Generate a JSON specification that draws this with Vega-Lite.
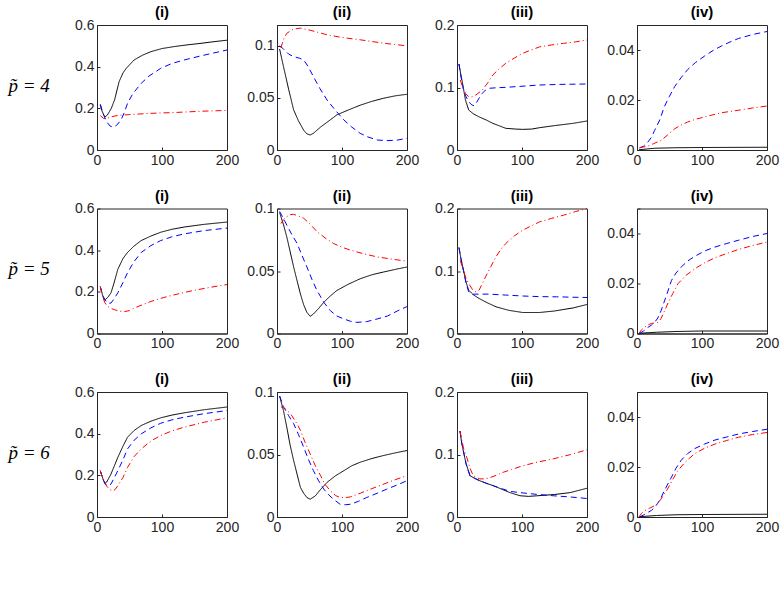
{
"$schema":"https://vega.github.io/schema/vega-lite/v6.json",
"padding":{"left":7,"top":4,"right":5,"bottom":5},
"background":"white",
"config":{
 "view":{"stroke":"#262626","strokeWidth":1},
 "axis":{"grid":false,"domainColor":"#262626","tickColor":"#262626","labelColor":"#262626","labelFont":"Liberation Sans","labelFontSize":14,"tickSize":-3,"labelPadding":6,"domainWidth":1,"labelFlush":false,"labelOverlap":false},
 "title":{"font":"Liberation Sans","fontSize":15,"fontWeight":"bold","color":"#000000"},
 "line":{"strokeWidth":1,"clip":true}
},
"datasets":{"d":[
{"r":4,"p":"i","s":"a","x":5,"y":0.215},{"r":4,"p":"i","s":"a","x":8,"y":0.185},{"r":4,"p":"i","s":"a","x":12,"y":0.158},{"r":4,"p":"i","s":"a","x":16,"y":0.168},{"r":4,"p":"i","s":"a","x":22,"y":0.2},{"r":4,"p":"i","s":"a","x":27,"y":0.24},{"r":4,"p":"i","s":"a","x":34,"y":0.328},{"r":4,"p":"i","s":"a","x":40,"y":0.37},{"r":4,"p":"i","s":"a","x":45,"y":0.392},{"r":4,"p":"i","s":"a","x":57,"y":0.432},{"r":4,"p":"i","s":"a","x":70,"y":0.455},{"r":4,"p":"i","s":"a","x":83,"y":0.472},{"r":4,"p":"i","s":"a","x":100,"y":0.487},{"r":4,"p":"i","s":"a","x":120,"y":0.497},{"r":4,"p":"i","s":"a","x":140,"y":0.505},{"r":4,"p":"i","s":"a","x":160,"y":0.512},{"r":4,"p":"i","s":"a","x":180,"y":0.52},{"r":4,"p":"i","s":"a","x":200,"y":0.527},
{"r":4,"p":"i","s":"b","x":5,"y":0.22},{"r":4,"p":"i","s":"b","x":10,"y":0.17},{"r":4,"p":"i","s":"b","x":15,"y":0.135},{"r":4,"p":"i","s":"b","x":20,"y":0.115},{"r":4,"p":"i","s":"b","x":25,"y":0.11},{"r":4,"p":"i","s":"b","x":30,"y":0.118},{"r":4,"p":"i","s":"b","x":37,"y":0.144},{"r":4,"p":"i","s":"b","x":42,"y":0.18},{"r":4,"p":"i","s":"b","x":47,"y":0.224},{"r":4,"p":"i","s":"b","x":55,"y":0.27},{"r":4,"p":"i","s":"b","x":68,"y":0.32},{"r":4,"p":"i","s":"b","x":80,"y":0.355},{"r":4,"p":"i","s":"b","x":98,"y":0.392},{"r":4,"p":"i","s":"b","x":115,"y":0.415},{"r":4,"p":"i","s":"b","x":134,"y":0.432},{"r":4,"p":"i","s":"b","x":160,"y":0.452},{"r":4,"p":"i","s":"b","x":180,"y":0.466},{"r":4,"p":"i","s":"b","x":200,"y":0.48},
{"r":4,"p":"i","s":"c","x":5,"y":0.165},{"r":4,"p":"i","s":"c","x":10,"y":0.152},{"r":4,"p":"i","s":"c","x":14,"y":0.149},{"r":4,"p":"i","s":"c","x":20,"y":0.158},{"r":4,"p":"i","s":"c","x":32,"y":0.166},{"r":4,"p":"i","s":"c","x":50,"y":0.17},{"r":4,"p":"i","s":"c","x":83,"y":0.176},{"r":4,"p":"i","s":"c","x":120,"y":0.18},{"r":4,"p":"i","s":"c","x":160,"y":0.186},{"r":4,"p":"i","s":"c","x":200,"y":0.19},
{"r":4,"p":"ii","s":"a","x":4,"y":0.097},{"r":4,"p":"ii","s":"a","x":10,"y":0.08},{"r":4,"p":"ii","s":"a","x":18,"y":0.058},{"r":4,"p":"ii","s":"a","x":25.6,"y":0.0385},{"r":4,"p":"ii","s":"a","x":33,"y":0.028},{"r":4,"p":"ii","s":"a","x":41,"y":0.019},{"r":4,"p":"ii","s":"a","x":46,"y":0.0155},{"r":4,"p":"ii","s":"a","x":51,"y":0.0144},{"r":4,"p":"ii","s":"a","x":56,"y":0.016},{"r":4,"p":"ii","s":"a","x":67,"y":0.022},{"r":4,"p":"ii","s":"a","x":80,"y":0.028},{"r":4,"p":"ii","s":"a","x":92,"y":0.0337},{"r":4,"p":"ii","s":"a","x":110,"y":0.0385},{"r":4,"p":"ii","s":"a","x":128,"y":0.043},{"r":4,"p":"ii","s":"a","x":146,"y":0.0467},{"r":4,"p":"ii","s":"a","x":164,"y":0.0497},{"r":4,"p":"ii","s":"a","x":182,"y":0.052},{"r":4,"p":"ii","s":"a","x":200,"y":0.0535},
{"r":4,"p":"ii","s":"b","x":4,"y":0.1},{"r":4,"p":"ii","s":"b","x":10,"y":0.097},{"r":4,"p":"ii","s":"b","x":18,"y":0.092},{"r":4,"p":"ii","s":"b","x":25.6,"y":0.0897},{"r":4,"p":"ii","s":"b","x":35,"y":0.088},{"r":4,"p":"ii","s":"b","x":41,"y":0.0865},{"r":4,"p":"ii","s":"b","x":48,"y":0.08},{"r":4,"p":"ii","s":"b","x":56,"y":0.0705},{"r":4,"p":"ii","s":"b","x":66,"y":0.059},{"r":4,"p":"ii","s":"b","x":77,"y":0.048},{"r":4,"p":"ii","s":"b","x":90,"y":0.038},{"r":4,"p":"ii","s":"b","x":103,"y":0.0288},{"r":4,"p":"ii","s":"b","x":115,"y":0.022},{"r":4,"p":"ii","s":"b","x":128,"y":0.016},{"r":4,"p":"ii","s":"b","x":140,"y":0.0125},{"r":4,"p":"ii","s":"b","x":154,"y":0.0096},{"r":4,"p":"ii","s":"b","x":169,"y":0.009},{"r":4,"p":"ii","s":"b","x":185,"y":0.0095},{"r":4,"p":"ii","s":"b","x":200,"y":0.0112},
{"r":4,"p":"ii","s":"c","x":6,"y":0.098},{"r":4,"p":"ii","s":"c","x":10,"y":0.106},{"r":4,"p":"ii","s":"c","x":15,"y":0.112},{"r":4,"p":"ii","s":"c","x":25,"y":0.116},{"r":4,"p":"ii","s":"c","x":36,"y":0.117},{"r":4,"p":"ii","s":"c","x":51,"y":0.115},{"r":4,"p":"ii","s":"c","x":77,"y":0.1106},{"r":4,"p":"ii","s":"c","x":100,"y":0.108},{"r":4,"p":"ii","s":"c","x":128,"y":0.1058},{"r":4,"p":"ii","s":"c","x":164,"y":0.1025},{"r":4,"p":"ii","s":"c","x":200,"y":0.1},
{"r":4,"p":"iii","s":"a","x":3,"y":0.1376},{"r":4,"p":"iii","s":"a","x":6,"y":0.12},{"r":4,"p":"iii","s":"a","x":8,"y":0.11},{"r":4,"p":"iii","s":"a","x":13,"y":0.08},{"r":4,"p":"iii","s":"a","x":18,"y":0.064},{"r":4,"p":"iii","s":"a","x":25,"y":0.058},{"r":4,"p":"iii","s":"a","x":34,"y":0.053},{"r":4,"p":"iii","s":"a","x":45,"y":0.048},{"r":4,"p":"iii","s":"a","x":55,"y":0.0427},{"r":4,"p":"iii","s":"a","x":75,"y":0.0347},{"r":4,"p":"iii","s":"a","x":90,"y":0.0335},{"r":4,"p":"iii","s":"a","x":101,"y":0.033},{"r":4,"p":"iii","s":"a","x":115,"y":0.0335},{"r":4,"p":"iii","s":"a","x":127,"y":0.0357},{"r":4,"p":"iii","s":"a","x":150,"y":0.039},{"r":4,"p":"iii","s":"a","x":179,"y":0.0427},{"r":4,"p":"iii","s":"a","x":200,"y":0.0464},
{"r":4,"p":"iii","s":"b","x":3,"y":0.1376},{"r":4,"p":"iii","s":"b","x":6,"y":0.118},{"r":4,"p":"iii","s":"b","x":10,"y":0.096},{"r":4,"p":"iii","s":"b","x":14,"y":0.085},{"r":4,"p":"iii","s":"b","x":18,"y":0.077},{"r":4,"p":"iii","s":"b","x":23,"y":0.072},{"r":4,"p":"iii","s":"b","x":26,"y":0.071},{"r":4,"p":"iii","s":"b","x":29,"y":0.074},{"r":4,"p":"iii","s":"b","x":34,"y":0.083},{"r":4,"p":"iii","s":"b","x":39,"y":0.0907},{"r":4,"p":"iii","s":"b","x":44,"y":0.096},{"r":4,"p":"iii","s":"b","x":49,"y":0.0987},{"r":4,"p":"iii","s":"b","x":60,"y":0.0995},{"r":4,"p":"iii","s":"b","x":75,"y":0.1003},{"r":4,"p":"iii","s":"b","x":100,"y":0.102},{"r":4,"p":"iii","s":"b","x":127,"y":0.104},{"r":4,"p":"iii","s":"b","x":160,"y":0.105},{"r":4,"p":"iii","s":"b","x":200,"y":0.1056},
{"r":4,"p":"iii","s":"c","x":5,"y":0.112},{"r":4,"p":"iii","s":"c","x":9,"y":0.1},{"r":4,"p":"iii","s":"c","x":13,"y":0.0907},{"r":4,"p":"iii","s":"c","x":18,"y":0.085},{"r":4,"p":"iii","s":"c","x":23,"y":0.085},{"r":4,"p":"iii","s":"c","x":29,"y":0.088},{"r":4,"p":"iii","s":"c","x":39,"y":0.096},{"r":4,"p":"iii","s":"c","x":47,"y":0.107},{"r":4,"p":"iii","s":"c","x":55,"y":0.12},{"r":4,"p":"iii","s":"c","x":65,"y":0.13},{"r":4,"p":"iii","s":"c","x":75,"y":0.1387},{"r":4,"p":"iii","s":"c","x":88,"y":0.147},{"r":4,"p":"iii","s":"c","x":101,"y":0.1547},{"r":4,"p":"iii","s":"c","x":114,"y":0.16},{"r":4,"p":"iii","s":"c","x":127,"y":0.165},{"r":4,"p":"iii","s":"c","x":145,"y":0.168},{"r":4,"p":"iii","s":"c","x":164,"y":0.1707},{"r":4,"p":"iii","s":"c","x":182,"y":0.173},{"r":4,"p":"iii","s":"c","x":200,"y":0.176},
{"r":4,"p":"iv","s":"a","x":3,"y":0.0001},{"r":4,"p":"iv","s":"a","x":27,"y":0.0007},{"r":4,"p":"iv","s":"a","x":58,"y":0.0009},{"r":4,"p":"iv","s":"a","x":100,"y":0.001},{"r":4,"p":"iv","s":"a","x":200,"y":0.0011},
{"r":4,"p":"iv","s":"b","x":4,"y":0.0008},{"r":4,"p":"iv","s":"b","x":10,"y":0.0015},{"r":4,"p":"iv","s":"b","x":16.5,"y":0.0031},{"r":4,"p":"iv","s":"b","x":22,"y":0.005},{"r":4,"p":"iv","s":"b","x":27,"y":0.0078},{"r":4,"p":"iv","s":"b","x":35,"y":0.012},{"r":4,"p":"iv","s":"b","x":42,"y":0.0173},{"r":4,"p":"iv","s":"b","x":50,"y":0.0215},{"r":4,"p":"iv","s":"b","x":58,"y":0.0254},{"r":4,"p":"iv","s":"b","x":68,"y":0.029},{"r":4,"p":"iv","s":"b","x":78,"y":0.0322},{"r":4,"p":"iv","s":"b","x":90,"y":0.035},{"r":4,"p":"iv","s":"b","x":104,"y":0.0376},{"r":4,"p":"iv","s":"b","x":117,"y":0.0398},{"r":4,"p":"iv","s":"b","x":130,"y":0.0416},{"r":4,"p":"iv","s":"b","x":143,"y":0.0432},{"r":4,"p":"iv","s":"b","x":156,"y":0.0446},{"r":4,"p":"iv","s":"b","x":178,"y":0.0462},{"r":4,"p":"iv","s":"b","x":200,"y":0.0474},
{"r":4,"p":"iv","s":"c","x":4,"y":0.001},{"r":4,"p":"iv","s":"c","x":10,"y":0.0012},{"r":4,"p":"iv","s":"c","x":16.5,"y":0.0015},{"r":4,"p":"iv","s":"c","x":25,"y":0.0025},{"r":4,"p":"iv","s":"c","x":37,"y":0.0038},{"r":4,"p":"iv","s":"c","x":47,"y":0.006},{"r":4,"p":"iv","s":"c","x":58,"y":0.0085},{"r":4,"p":"iv","s":"c","x":68,"y":0.01},{"r":4,"p":"iv","s":"c","x":78,"y":0.0112},{"r":4,"p":"iv","s":"c","x":90,"y":0.0123},{"r":4,"p":"iv","s":"c","x":104,"y":0.0132},{"r":4,"p":"iv","s":"c","x":117,"y":0.0141},{"r":4,"p":"iv","s":"c","x":130,"y":0.0149},{"r":4,"p":"iv","s":"c","x":156,"y":0.0159},{"r":4,"p":"iv","s":"c","x":178,"y":0.0168},{"r":4,"p":"iv","s":"c","x":200,"y":0.0176},
{"r":5,"p":"i","s":"a","x":5,"y":0.225},{"r":5,"p":"i","s":"a","x":8,"y":0.19},{"r":5,"p":"i","s":"a","x":11,"y":0.162},{"r":5,"p":"i","s":"a","x":13,"y":0.163},{"r":5,"p":"i","s":"a","x":17,"y":0.175},{"r":5,"p":"i","s":"a","x":21.5,"y":0.195},{"r":5,"p":"i","s":"a","x":26,"y":0.24},{"r":5,"p":"i","s":"a","x":32,"y":0.308},{"r":5,"p":"i","s":"a","x":40,"y":0.36},{"r":5,"p":"i","s":"a","x":47,"y":0.389},{"r":5,"p":"i","s":"a","x":57,"y":0.42},{"r":5,"p":"i","s":"a","x":68,"y":0.446},{"r":5,"p":"i","s":"a","x":83,"y":0.468},{"r":5,"p":"i","s":"a","x":98,"y":0.486},{"r":5,"p":"i","s":"a","x":115,"y":0.5},{"r":5,"p":"i","s":"a","x":134,"y":0.511},{"r":5,"p":"i","s":"a","x":165,"y":0.524},{"r":5,"p":"i","s":"a","x":200,"y":0.535},
{"r":5,"p":"i","s":"b","x":5,"y":0.225},{"r":5,"p":"i","s":"b","x":9,"y":0.18},{"r":5,"p":"i","s":"b","x":14,"y":0.154},{"r":5,"p":"i","s":"b","x":17,"y":0.145},{"r":5,"p":"i","s":"b","x":21.5,"y":0.146},{"r":5,"p":"i","s":"b","x":26,"y":0.165},{"r":5,"p":"i","s":"b","x":32,"y":0.195},{"r":5,"p":"i","s":"b","x":40,"y":0.245},{"r":5,"p":"i","s":"b","x":47,"y":0.292},{"r":5,"p":"i","s":"b","x":57,"y":0.345},{"r":5,"p":"i","s":"b","x":68,"y":0.389},{"r":5,"p":"i","s":"b","x":83,"y":0.422},{"r":5,"p":"i","s":"b","x":98,"y":0.446},{"r":5,"p":"i","s":"b","x":115,"y":0.464},{"r":5,"p":"i","s":"b","x":134,"y":0.478},{"r":5,"p":"i","s":"b","x":165,"y":0.494},{"r":5,"p":"i","s":"b","x":200,"y":0.506},
{"r":5,"p":"i","s":"c","x":5,"y":0.225},{"r":5,"p":"i","s":"c","x":9,"y":0.175},{"r":5,"p":"i","s":"c","x":12,"y":0.148},{"r":5,"p":"i","s":"c","x":16.4,"y":0.13},{"r":5,"p":"i","s":"c","x":22,"y":0.12},{"r":5,"p":"i","s":"c","x":27,"y":0.114},{"r":5,"p":"i","s":"c","x":35,"y":0.107},{"r":5,"p":"i","s":"c","x":42,"y":0.105},{"r":5,"p":"i","s":"c","x":50,"y":0.11},{"r":5,"p":"i","s":"c","x":57,"y":0.122},{"r":5,"p":"i","s":"c","x":70,"y":0.138},{"r":5,"p":"i","s":"c","x":83,"y":0.154},{"r":5,"p":"i","s":"c","x":96,"y":0.167},{"r":5,"p":"i","s":"c","x":109,"y":0.178},{"r":5,"p":"i","s":"c","x":130,"y":0.194},{"r":5,"p":"i","s":"c","x":150,"y":0.2076},{"r":5,"p":"i","s":"c","x":175,"y":0.222},{"r":5,"p":"i","s":"c","x":200,"y":0.235},
{"r":5,"p":"ii","s":"a","x":4,"y":0.0968},{"r":5,"p":"ii","s":"a","x":10,"y":0.087},{"r":5,"p":"ii","s":"a","x":15,"y":0.0774},{"r":5,"p":"ii","s":"a","x":20,"y":0.066},{"r":5,"p":"ii","s":"a","x":25.6,"y":0.0532},{"r":5,"p":"ii","s":"a","x":31,"y":0.042},{"r":5,"p":"ii","s":"a","x":36,"y":0.0317},{"r":5,"p":"ii","s":"a","x":41,"y":0.023},{"r":5,"p":"ii","s":"a","x":46,"y":0.0169},{"r":5,"p":"ii","s":"a","x":51,"y":0.0137},{"r":5,"p":"ii","s":"a","x":56,"y":0.0156},{"r":5,"p":"ii","s":"a","x":64,"y":0.02},{"r":5,"p":"ii","s":"a","x":72,"y":0.025},{"r":5,"p":"ii","s":"a","x":82,"y":0.03},{"r":5,"p":"ii","s":"a","x":92,"y":0.0344},{"r":5,"p":"ii","s":"a","x":110,"y":0.0395},{"r":5,"p":"ii","s":"a","x":128,"y":0.0438},{"r":5,"p":"ii","s":"a","x":146,"y":0.047},{"r":5,"p":"ii","s":"a","x":164,"y":0.0492},{"r":5,"p":"ii","s":"a","x":182,"y":0.0513},{"r":5,"p":"ii","s":"a","x":200,"y":0.0532},
{"r":5,"p":"ii","s":"b","x":4,"y":0.0976},{"r":5,"p":"ii","s":"b","x":10,"y":0.092},{"r":5,"p":"ii","s":"b","x":15,"y":0.0868},{"r":5,"p":"ii","s":"b","x":23,"y":0.079},{"r":5,"p":"ii","s":"b","x":31,"y":0.072},{"r":5,"p":"ii","s":"b","x":38,"y":0.063},{"r":5,"p":"ii","s":"b","x":46,"y":0.0532},{"r":5,"p":"ii","s":"b","x":54,"y":0.043},{"r":5,"p":"ii","s":"b","x":61.5,"y":0.0344},{"r":5,"p":"ii","s":"b","x":72,"y":0.025},{"r":5,"p":"ii","s":"b","x":82,"y":0.0183},{"r":5,"p":"ii","s":"b","x":92,"y":0.014},{"r":5,"p":"ii","s":"b","x":103,"y":0.0116},{"r":5,"p":"ii","s":"b","x":113,"y":0.0098},{"r":5,"p":"ii","s":"b","x":123,"y":0.0089},{"r":5,"p":"ii","s":"b","x":138,"y":0.0095},{"r":5,"p":"ii","s":"b","x":154,"y":0.0116},{"r":5,"p":"ii","s":"b","x":170,"y":0.014},{"r":5,"p":"ii","s":"b","x":185,"y":0.018},{"r":5,"p":"ii","s":"b","x":200,"y":0.0215},
{"r":5,"p":"ii","s":"c","x":6,"y":0.088},{"r":5,"p":"ii","s":"c","x":10,"y":0.091},{"r":5,"p":"ii","s":"c","x":15,"y":0.0935},{"r":5,"p":"ii","s":"c","x":20,"y":0.095},{"r":5,"p":"ii","s":"c","x":25.6,"y":0.0954},{"r":5,"p":"ii","s":"c","x":33,"y":0.094},{"r":5,"p":"ii","s":"c","x":41,"y":0.0922},{"r":5,"p":"ii","s":"c","x":50,"y":0.088},{"r":5,"p":"ii","s":"c","x":61.5,"y":0.0815},{"r":5,"p":"ii","s":"c","x":74,"y":0.0765},{"r":5,"p":"ii","s":"c","x":87,"y":0.072},{"r":5,"p":"ii","s":"c","x":100,"y":0.069},{"r":5,"p":"ii","s":"c","x":113,"y":0.0667},{"r":5,"p":"ii","s":"c","x":133,"y":0.0638},{"r":5,"p":"ii","s":"c","x":154,"y":0.0613},{"r":5,"p":"ii","s":"c","x":177,"y":0.0595},{"r":5,"p":"ii","s":"c","x":200,"y":0.0578},
{"r":5,"p":"iii","s":"a","x":3,"y":0.1376},{"r":5,"p":"iii","s":"a","x":6,"y":0.12},{"r":5,"p":"iii","s":"a","x":10,"y":0.101},{"r":5,"p":"iii","s":"a","x":14,"y":0.082},{"r":5,"p":"iii","s":"a","x":18,"y":0.0693},{"r":5,"p":"iii","s":"a","x":25,"y":0.062},{"r":5,"p":"iii","s":"a","x":34,"y":0.056},{"r":5,"p":"iii","s":"a","x":45,"y":0.05},{"r":5,"p":"iii","s":"a","x":60,"y":0.0427},{"r":5,"p":"iii","s":"a","x":80,"y":0.037},{"r":5,"p":"iii","s":"a","x":101,"y":0.0336},{"r":5,"p":"iii","s":"a","x":127,"y":0.0336},{"r":5,"p":"iii","s":"a","x":150,"y":0.036},{"r":5,"p":"iii","s":"a","x":179,"y":0.041},{"r":5,"p":"iii","s":"a","x":200,"y":0.0464},
{"r":5,"p":"iii","s":"b","x":3,"y":0.1376},{"r":5,"p":"iii","s":"b","x":6,"y":0.12},{"r":5,"p":"iii","s":"b","x":10,"y":0.101},{"r":5,"p":"iii","s":"b","x":14,"y":0.08},{"r":5,"p":"iii","s":"b","x":18,"y":0.0667},{"r":5,"p":"iii","s":"b","x":23,"y":0.063},{"r":5,"p":"iii","s":"b","x":49,"y":0.063},{"r":5,"p":"iii","s":"b","x":75,"y":0.0615},{"r":5,"p":"iii","s":"b","x":101,"y":0.06},{"r":5,"p":"iii","s":"b","x":127,"y":0.059},{"r":5,"p":"iii","s":"b","x":153,"y":0.0587},{"r":5,"p":"iii","s":"b","x":180,"y":0.058},{"r":5,"p":"iii","s":"b","x":200,"y":0.0576},
{"r":5,"p":"iii","s":"c","x":5,"y":0.117},{"r":5,"p":"iii","s":"c","x":10,"y":0.1},{"r":5,"p":"iii","s":"c","x":14,"y":0.088},{"r":5,"p":"iii","s":"c","x":18,"y":0.08},{"r":5,"p":"iii","s":"c","x":24,"y":0.07},{"r":5,"p":"iii","s":"c","x":29,"y":0.0667},{"r":5,"p":"iii","s":"c","x":34,"y":0.0693},{"r":5,"p":"iii","s":"c","x":39,"y":0.08},{"r":5,"p":"iii","s":"c","x":44,"y":0.0907},{"r":5,"p":"iii","s":"c","x":52,"y":0.107},{"r":5,"p":"iii","s":"c","x":60,"y":0.1227},{"r":5,"p":"iii","s":"c","x":67,"y":0.134},{"r":5,"p":"iii","s":"c","x":75,"y":0.144},{"r":5,"p":"iii","s":"c","x":88,"y":0.156},{"r":5,"p":"iii","s":"c","x":101,"y":0.1653},{"r":5,"p":"iii","s":"c","x":114,"y":0.172},{"r":5,"p":"iii","s":"c","x":127,"y":0.1787},{"r":5,"p":"iii","s":"c","x":145,"y":0.184},{"r":5,"p":"iii","s":"c","x":164,"y":0.1893},{"r":5,"p":"iii","s":"c","x":182,"y":0.195},{"r":5,"p":"iii","s":"c","x":200,"y":0.2},
{"r":5,"p":"iv","s":"a","x":3,"y":0.0001},{"r":5,"p":"iv","s":"a","x":30,"y":0.0005},{"r":5,"p":"iv","s":"a","x":60,"y":0.0008},{"r":5,"p":"iv","s":"a","x":100,"y":0.001},{"r":5,"p":"iv","s":"a","x":200,"y":0.001},
{"r":5,"p":"iv","s":"b","x":4,"y":0},{"r":5,"p":"iv","s":"b","x":10,"y":0.001},{"r":5,"p":"iv","s":"b","x":16.5,"y":0.0024},{"r":5,"p":"iv","s":"b","x":22,"y":0.0033},{"r":5,"p":"iv","s":"b","x":27,"y":0.0044},{"r":5,"p":"iv","s":"b","x":32,"y":0.0062},{"r":5,"p":"iv","s":"b","x":37,"y":0.0091},{"r":5,"p":"iv","s":"b","x":45,"y":0.015},{"r":5,"p":"iv","s":"b","x":53,"y":0.0212},{"r":5,"p":"iv","s":"b","x":60,"y":0.0242},{"r":5,"p":"iv","s":"b","x":68,"y":0.0266},{"r":5,"p":"iv","s":"b","x":78,"y":0.029},{"r":5,"p":"iv","s":"b","x":89,"y":0.0309},{"r":5,"p":"iv","s":"b","x":104,"y":0.033},{"r":5,"p":"iv","s":"b","x":120,"y":0.0346},{"r":5,"p":"iv","s":"b","x":138,"y":0.036},{"r":5,"p":"iv","s":"b","x":156,"y":0.0373},{"r":5,"p":"iv","s":"b","x":178,"y":0.0388},{"r":5,"p":"iv","s":"b","x":200,"y":0.04},
{"r":5,"p":"iv","s":"c","x":3,"y":0},{"r":5,"p":"iv","s":"c","x":7,"y":0.0015},{"r":5,"p":"iv","s":"c","x":11,"y":0.0024},{"r":5,"p":"iv","s":"c","x":16,"y":0.0033},{"r":5,"p":"iv","s":"c","x":22,"y":0.004},{"r":5,"p":"iv","s":"c","x":27,"y":0.0042},{"r":5,"p":"iv","s":"c","x":32,"y":0.0044},{"r":5,"p":"iv","s":"c","x":37,"y":0.006},{"r":5,"p":"iv","s":"c","x":42,"y":0.0088},{"r":5,"p":"iv","s":"c","x":47,"y":0.0118},{"r":5,"p":"iv","s":"c","x":55,"y":0.016},{"r":5,"p":"iv","s":"c","x":63,"y":0.0199},{"r":5,"p":"iv","s":"c","x":75,"y":0.0232},{"r":5,"p":"iv","s":"c","x":89,"y":0.0259},{"r":5,"p":"iv","s":"c","x":104,"y":0.0283},{"r":5,"p":"iv","s":"c","x":120,"y":0.0303},{"r":5,"p":"iv","s":"c","x":138,"y":0.032},{"r":5,"p":"iv","s":"c","x":156,"y":0.0336},{"r":5,"p":"iv","s":"c","x":178,"y":0.0352},{"r":5,"p":"iv","s":"c","x":200,"y":0.0366},
{"r":6,"p":"i","s":"a","x":5,"y":0.222},{"r":6,"p":"i","s":"a","x":9,"y":0.185},{"r":6,"p":"i","s":"a","x":12,"y":0.161},{"r":6,"p":"i","s":"a","x":15,"y":0.168},{"r":6,"p":"i","s":"a","x":21.5,"y":0.206},{"r":6,"p":"i","s":"a","x":26,"y":0.24},{"r":6,"p":"i","s":"a","x":32,"y":0.286},{"r":6,"p":"i","s":"a","x":40,"y":0.34},{"r":6,"p":"i","s":"a","x":47,"y":0.383},{"r":6,"p":"i","s":"a","x":57,"y":0.415},{"r":6,"p":"i","s":"a","x":68,"y":0.439},{"r":6,"p":"i","s":"a","x":83,"y":0.46},{"r":6,"p":"i","s":"a","x":98,"y":0.476},{"r":6,"p":"i","s":"a","x":115,"y":0.489},{"r":6,"p":"i","s":"a","x":134,"y":0.5},{"r":6,"p":"i","s":"a","x":165,"y":0.515},{"r":6,"p":"i","s":"a","x":200,"y":0.528},
{"r":6,"p":"i","s":"b","x":5,"y":0.222},{"r":6,"p":"i","s":"b","x":10,"y":0.175},{"r":6,"p":"i","s":"b","x":15,"y":0.15},{"r":6,"p":"i","s":"b","x":18,"y":0.15},{"r":6,"p":"i","s":"b","x":21.5,"y":0.158},{"r":6,"p":"i","s":"b","x":26,"y":0.185},{"r":6,"p":"i","s":"b","x":32,"y":0.222},{"r":6,"p":"i","s":"b","x":40,"y":0.275},{"r":6,"p":"i","s":"b","x":47,"y":0.327},{"r":6,"p":"i","s":"b","x":57,"y":0.368},{"r":6,"p":"i","s":"b","x":68,"y":0.399},{"r":6,"p":"i","s":"b","x":83,"y":0.428},{"r":6,"p":"i","s":"b","x":98,"y":0.45},{"r":6,"p":"i","s":"b","x":115,"y":0.466},{"r":6,"p":"i","s":"b","x":134,"y":0.479},{"r":6,"p":"i","s":"b","x":165,"y":0.496},{"r":6,"p":"i","s":"b","x":200,"y":0.511},
{"r":6,"p":"i","s":"c","x":5,"y":0.222},{"r":6,"p":"i","s":"c","x":11,"y":0.166},{"r":6,"p":"i","s":"c","x":15,"y":0.148},{"r":6,"p":"i","s":"c","x":19,"y":0.1335},{"r":6,"p":"i","s":"c","x":24,"y":0.125},{"r":6,"p":"i","s":"c","x":28,"y":0.132},{"r":6,"p":"i","s":"c","x":32,"y":0.15},{"r":6,"p":"i","s":"c","x":40,"y":0.19},{"r":6,"p":"i","s":"c","x":47,"y":0.238},{"r":6,"p":"i","s":"c","x":57,"y":0.29},{"r":6,"p":"i","s":"c","x":68,"y":0.3266},{"r":6,"p":"i","s":"c","x":83,"y":0.365},{"r":6,"p":"i","s":"c","x":98,"y":0.391},{"r":6,"p":"i","s":"c","x":115,"y":0.413},{"r":6,"p":"i","s":"c","x":134,"y":0.431},{"r":6,"p":"i","s":"c","x":165,"y":0.455},{"r":6,"p":"i","s":"c","x":200,"y":0.476},
{"r":6,"p":"ii","s":"a","x":4,"y":0.0968},{"r":6,"p":"ii","s":"a","x":10,"y":0.085},{"r":6,"p":"ii","s":"a","x":15,"y":0.072},{"r":6,"p":"ii","s":"a","x":20,"y":0.058},{"r":6,"p":"ii","s":"a","x":25.6,"y":0.0452},{"r":6,"p":"ii","s":"a","x":31,"y":0.034},{"r":6,"p":"ii","s":"a","x":36,"y":0.0237},{"r":6,"p":"ii","s":"a","x":41,"y":0.019},{"r":6,"p":"ii","s":"a","x":46,"y":0.0156},{"r":6,"p":"ii","s":"a","x":51,"y":0.0142},{"r":6,"p":"ii","s":"a","x":59,"y":0.0169},{"r":6,"p":"ii","s":"a","x":67,"y":0.022},{"r":6,"p":"ii","s":"a","x":77,"y":0.0277},{"r":6,"p":"ii","s":"a","x":90,"y":0.033},{"r":6,"p":"ii","s":"a","x":103,"y":0.0371},{"r":6,"p":"ii","s":"a","x":115,"y":0.041},{"r":6,"p":"ii","s":"a","x":128,"y":0.0438},{"r":6,"p":"ii","s":"a","x":146,"y":0.0468},{"r":6,"p":"ii","s":"a","x":164,"y":0.0492},{"r":6,"p":"ii","s":"a","x":182,"y":0.0513},{"r":6,"p":"ii","s":"a","x":200,"y":0.0532},
{"r":6,"p":"ii","s":"b","x":4,"y":0.0968},{"r":6,"p":"ii","s":"b","x":10,"y":0.0882},{"r":6,"p":"ii","s":"b","x":18,"y":0.081},{"r":6,"p":"ii","s":"b","x":25.6,"y":0.0747},{"r":6,"p":"ii","s":"b","x":33,"y":0.066},{"r":6,"p":"ii","s":"b","x":41,"y":0.0559},{"r":6,"p":"ii","s":"b","x":48,"y":0.0465},{"r":6,"p":"ii","s":"b","x":56,"y":0.0371},{"r":6,"p":"ii","s":"b","x":64,"y":0.029},{"r":6,"p":"ii","s":"b","x":72,"y":0.0223},{"r":6,"p":"ii","s":"b","x":80,"y":0.0175},{"r":6,"p":"ii","s":"b","x":87,"y":0.0142},{"r":6,"p":"ii","s":"b","x":97,"y":0.0102},{"r":6,"p":"ii","s":"b","x":105,"y":0.0098},{"r":6,"p":"ii","s":"b","x":113,"y":0.0102},{"r":6,"p":"ii","s":"b","x":125,"y":0.0125},{"r":6,"p":"ii","s":"b","x":138,"y":0.0156},{"r":6,"p":"ii","s":"b","x":154,"y":0.019},{"r":6,"p":"ii","s":"b","x":169,"y":0.0223},{"r":6,"p":"ii","s":"b","x":185,"y":0.0257},{"r":6,"p":"ii","s":"b","x":200,"y":0.029},
{"r":6,"p":"ii","s":"c","x":6,"y":0.0882},{"r":6,"p":"ii","s":"c","x":13,"y":0.0865},{"r":6,"p":"ii","s":"c","x":20.5,"y":0.0828},{"r":6,"p":"ii","s":"c","x":28,"y":0.077},{"r":6,"p":"ii","s":"c","x":36,"y":0.0694},{"r":6,"p":"ii","s":"c","x":43,"y":0.06},{"r":6,"p":"ii","s":"c","x":51,"y":0.0505},{"r":6,"p":"ii","s":"c","x":59,"y":0.041},{"r":6,"p":"ii","s":"c","x":67,"y":0.0331},{"r":6,"p":"ii","s":"c","x":74,"y":0.026},{"r":6,"p":"ii","s":"c","x":82,"y":0.021},{"r":6,"p":"ii","s":"c","x":90,"y":0.0172},{"r":6,"p":"ii","s":"c","x":97,"y":0.0156},{"r":6,"p":"ii","s":"c","x":105,"y":0.0155},{"r":6,"p":"ii","s":"c","x":113,"y":0.0161},{"r":6,"p":"ii","s":"c","x":128,"y":0.019},{"r":6,"p":"ii","s":"c","x":144,"y":0.0223},{"r":6,"p":"ii","s":"c","x":160,"y":0.0255},{"r":6,"p":"ii","s":"c","x":180,"y":0.0295},{"r":6,"p":"ii","s":"c","x":200,"y":0.0331},
{"r":6,"p":"iii","s":"a","x":4.6,"y":0.1376},{"r":6,"p":"iii","s":"a","x":7,"y":0.12},{"r":6,"p":"iii","s":"a","x":9.7,"y":0.106},{"r":6,"p":"iii","s":"a","x":14,"y":0.085},{"r":6,"p":"iii","s":"a","x":20,"y":0.066},{"r":6,"p":"iii","s":"a","x":27,"y":0.062},{"r":6,"p":"iii","s":"a","x":35,"y":0.058},{"r":6,"p":"iii","s":"a","x":45,"y":0.054},{"r":6,"p":"iii","s":"a","x":56,"y":0.05},{"r":6,"p":"iii","s":"a","x":70,"y":0.044},{"r":6,"p":"iii","s":"a","x":81.5,"y":0.039},{"r":6,"p":"iii","s":"a","x":97,"y":0.034},{"r":6,"p":"iii","s":"a","x":110,"y":0.033},{"r":6,"p":"iii","s":"a","x":122.6,"y":0.0339},{"r":6,"p":"iii","s":"a","x":150,"y":0.036},{"r":6,"p":"iii","s":"a","x":174,"y":0.039},{"r":6,"p":"iii","s":"a","x":200,"y":0.046},
{"r":6,"p":"iii","s":"b","x":4.6,"y":0.1376},{"r":6,"p":"iii","s":"b","x":7,"y":0.12},{"r":6,"p":"iii","s":"b","x":9.7,"y":0.106},{"r":6,"p":"iii","s":"b","x":14,"y":0.085},{"r":6,"p":"iii","s":"b","x":20,"y":0.066},{"r":6,"p":"iii","s":"b","x":27,"y":0.062},{"r":6,"p":"iii","s":"b","x":35,"y":0.058},{"r":6,"p":"iii","s":"b","x":45,"y":0.054},{"r":6,"p":"iii","s":"b","x":56,"y":0.05},{"r":6,"p":"iii","s":"b","x":70,"y":0.045},{"r":6,"p":"iii","s":"b","x":81.5,"y":0.041},{"r":6,"p":"iii","s":"b","x":97,"y":0.039},{"r":6,"p":"iii","s":"b","x":120,"y":0.0365},{"r":6,"p":"iii","s":"b","x":148,"y":0.034},{"r":6,"p":"iii","s":"b","x":175,"y":0.032},{"r":6,"p":"iii","s":"b","x":200,"y":0.0296},
{"r":6,"p":"iii","s":"c","x":4.6,"y":0.1376},{"r":6,"p":"iii","s":"c","x":10,"y":0.11},{"r":6,"p":"iii","s":"c","x":15,"y":0.0957},{"r":6,"p":"iii","s":"c","x":20,"y":0.078},{"r":6,"p":"iii","s":"c","x":25,"y":0.066},{"r":6,"p":"iii","s":"c","x":35,"y":0.061},{"r":6,"p":"iii","s":"c","x":43,"y":0.061},{"r":6,"p":"iii","s":"c","x":51,"y":0.063},{"r":6,"p":"iii","s":"c","x":61,"y":0.067},{"r":6,"p":"iii","s":"c","x":71,"y":0.0715},{"r":6,"p":"iii","s":"c","x":84,"y":0.076},{"r":6,"p":"iii","s":"c","x":97,"y":0.0806},{"r":6,"p":"iii","s":"c","x":120,"y":0.087},{"r":6,"p":"iii","s":"c","x":148,"y":0.093},{"r":6,"p":"iii","s":"c","x":175,"y":0.1},{"r":6,"p":"iii","s":"c","x":200,"y":0.1075},
{"r":6,"p":"iv","s":"a","x":3,"y":0.0001},{"r":6,"p":"iv","s":"a","x":30,"y":0.0006},{"r":6,"p":"iv","s":"a","x":60,"y":0.0009},{"r":6,"p":"iv","s":"a","x":100,"y":0.001},{"r":6,"p":"iv","s":"a","x":200,"y":0.0011},
{"r":6,"p":"iv","s":"b","x":4,"y":0},{"r":6,"p":"iv","s":"b","x":10,"y":0.0008},{"r":6,"p":"iv","s":"b","x":16.5,"y":0.0018},{"r":6,"p":"iv","s":"b","x":22,"y":0.0026},{"r":6,"p":"iv","s":"b","x":27,"y":0.0038},{"r":6,"p":"iv","s":"b","x":32,"y":0.0055},{"r":6,"p":"iv","s":"b","x":37,"y":0.0078},{"r":6,"p":"iv","s":"b","x":45,"y":0.012},{"r":6,"p":"iv","s":"b","x":53,"y":0.0159},{"r":6,"p":"iv","s":"b","x":60,"y":0.0195},{"r":6,"p":"iv","s":"b","x":68,"y":0.0227},{"r":6,"p":"iv","s":"b","x":78,"y":0.0254},{"r":6,"p":"iv","s":"b","x":89,"y":0.0274},{"r":6,"p":"iv","s":"b","x":104,"y":0.0292},{"r":6,"p":"iv","s":"b","x":120,"y":0.0308},{"r":6,"p":"iv","s":"b","x":138,"y":0.032},{"r":6,"p":"iv","s":"b","x":156,"y":0.0332},{"r":6,"p":"iv","s":"b","x":178,"y":0.0342},{"r":6,"p":"iv","s":"b","x":200,"y":0.0351},
{"r":6,"p":"iv","s":"c","x":3,"y":0},{"r":6,"p":"iv","s":"c","x":7,"y":0.0015},{"r":6,"p":"iv","s":"c","x":11,"y":0.0024},{"r":6,"p":"iv","s":"c","x":19,"y":0.0035},{"r":6,"p":"iv","s":"c","x":27,"y":0.0045},{"r":6,"p":"iv","s":"c","x":32,"y":0.0055},{"r":6,"p":"iv","s":"c","x":37,"y":0.0072},{"r":6,"p":"iv","s":"c","x":42,"y":0.0092},{"r":6,"p":"iv","s":"c","x":47,"y":0.0112},{"r":6,"p":"iv","s":"c","x":55,"y":0.015},{"r":6,"p":"iv","s":"c","x":63,"y":0.0186},{"r":6,"p":"iv","s":"c","x":75,"y":0.0222},{"r":6,"p":"iv","s":"c","x":89,"y":0.0254},{"r":6,"p":"iv","s":"c","x":104,"y":0.0275},{"r":6,"p":"iv","s":"c","x":120,"y":0.0292},{"r":6,"p":"iv","s":"c","x":138,"y":0.0306},{"r":6,"p":"iv","s":"c","x":156,"y":0.0319},{"r":6,"p":"iv","s":"c","x":178,"y":0.033},{"r":6,"p":"iv","s":"c","x":200,"y":0.0338}
]},
"columns":4,
"bounds":"flush",
"spacing":{"row":58.5,"column":50},
"concat":[
{"width":130,"height":125,"title":{"text":"(i)","offset":-2,"anchor":"middle"},"data":{"name":"d"},"transform":[{"filter":"datum.r==4 && datum.p=='i'"}],"mark":"line","encoding":{"x":{"field":"x","type":"quantitative","scale":{"domain":[0,200]},"axis":{"values":[0,100,200],"format":"~r","title":null}},"y":{"field":"y","type":"quantitative","scale":{"domain":[0,0.6]},"axis":{"values":[0,0.2,0.4,0.6],"format":"~r","title":"p̃ = 4","titleAngle":0,"titleAlign":"left","titleBaseline":"middle","titleX":-89,"titleY":60,"titleFont":"Liberation Serif","titleFontSize":19,"titleFontStyle":"italic","titleFontWeight":"normal","titleColor":"#000000"}},"color":{"field":"s","type":"nominal","scale":{"domain":["a","b","c"],"range":["#000000","#0000ff","#ff0000"]},"legend":null},"strokeDash":{"field":"s","type":"nominal","scale":{"domain":["a","b","c"],"range":[[1,0],[6,4],[6,3,1,3]]},"legend":null}}},
{"width":130,"height":125,"title":{"text":"(ii)","offset":-2,"anchor":"middle"},"data":{"name":"d"},"transform":[{"filter":"datum.r==4 && datum.p=='ii'"}],"mark":"line","encoding":{"x":{"field":"x","type":"quantitative","scale":{"domain":[0,200]},"axis":{"values":[0,100,200],"format":"~r","title":null}},"y":{"field":"y","type":"quantitative","scale":{"domain":[0,0.12]},"axis":{"values":[0,0.05,0.1,0.12],"format":"~r","title":null,"labelColor":{"condition":{"test":"datum.value > 0.11","value":"transparent"},"value":"#262626"}}},"color":{"field":"s","type":"nominal","scale":{"domain":["a","b","c"],"range":["#000000","#0000ff","#ff0000"]},"legend":null},"strokeDash":{"field":"s","type":"nominal","scale":{"domain":["a","b","c"],"range":[[1,0],[6,4],[6,3,1,3]]},"legend":null}}},
{"width":130,"height":125,"title":{"text":"(iii)","offset":-2,"anchor":"middle"},"data":{"name":"d"},"transform":[{"filter":"datum.r==4 && datum.p=='iii'"}],"mark":"line","encoding":{"x":{"field":"x","type":"quantitative","scale":{"domain":[0,200]},"axis":{"values":[0,100,200],"format":"~r","title":null}},"y":{"field":"y","type":"quantitative","scale":{"domain":[0,0.2]},"axis":{"values":[0,0.1,0.2],"format":"~r","title":null}},"color":{"field":"s","type":"nominal","scale":{"domain":["a","b","c"],"range":["#000000","#0000ff","#ff0000"]},"legend":null},"strokeDash":{"field":"s","type":"nominal","scale":{"domain":["a","b","c"],"range":[[1,0],[6,4],[6,3,1,3]]},"legend":null}}},
{"width":130,"height":125,"title":{"text":"(iv)","offset":-2,"anchor":"middle"},"data":{"name":"d"},"transform":[{"filter":"datum.r==4 && datum.p=='iv'"}],"mark":"line","encoding":{"x":{"field":"x","type":"quantitative","scale":{"domain":[0,200]},"axis":{"values":[0,100,200],"format":"~r","title":null}},"y":{"field":"y","type":"quantitative","scale":{"domain":[0,0.05]},"axis":{"values":[0,0.02,0.04,0.05],"format":"~r","title":null,"labelColor":{"condition":{"test":"datum.value > 0.045","value":"transparent"},"value":"#262626"}}},"color":{"field":"s","type":"nominal","scale":{"domain":["a","b","c"],"range":["#000000","#0000ff","#ff0000"]},"legend":null},"strokeDash":{"field":"s","type":"nominal","scale":{"domain":["a","b","c"],"range":[[1,0],[6,4],[6,3,1,3]]},"legend":null}}},
{"width":130,"height":125,"title":{"text":"(i)","offset":-2,"anchor":"middle"},"data":{"name":"d"},"transform":[{"filter":"datum.r==5 && datum.p=='i'"}],"mark":"line","encoding":{"x":{"field":"x","type":"quantitative","scale":{"domain":[0,200]},"axis":{"values":[0,100,200],"format":"~r","title":null}},"y":{"field":"y","type":"quantitative","scale":{"domain":[0,0.6]},"axis":{"values":[0,0.2,0.4,0.6],"format":"~r","title":"p̃ = 5","titleAngle":0,"titleAlign":"left","titleBaseline":"middle","titleX":-89,"titleY":60,"titleFont":"Liberation Serif","titleFontSize":19,"titleFontStyle":"italic","titleFontWeight":"normal","titleColor":"#000000"}},"color":{"field":"s","type":"nominal","scale":{"domain":["a","b","c"],"range":["#000000","#0000ff","#ff0000"]},"legend":null},"strokeDash":{"field":"s","type":"nominal","scale":{"domain":["a","b","c"],"range":[[1,0],[6,4],[6,3,1,3]]},"legend":null}}},
{"width":130,"height":125,"title":{"text":"(ii)","offset":-2,"anchor":"middle"},"data":{"name":"d"},"transform":[{"filter":"datum.r==5 && datum.p=='ii'"}],"mark":"line","encoding":{"x":{"field":"x","type":"quantitative","scale":{"domain":[0,200]},"axis":{"values":[0,100,200],"format":"~r","title":null}},"y":{"field":"y","type":"quantitative","scale":{"domain":[0,0.1]},"axis":{"values":[0,0.05,0.1],"format":"~r","title":null}},"color":{"field":"s","type":"nominal","scale":{"domain":["a","b","c"],"range":["#000000","#0000ff","#ff0000"]},"legend":null},"strokeDash":{"field":"s","type":"nominal","scale":{"domain":["a","b","c"],"range":[[1,0],[6,4],[6,3,1,3]]},"legend":null}}},
{"width":130,"height":125,"title":{"text":"(iii)","offset":-2,"anchor":"middle"},"data":{"name":"d"},"transform":[{"filter":"datum.r==5 && datum.p=='iii'"}],"mark":"line","encoding":{"x":{"field":"x","type":"quantitative","scale":{"domain":[0,200]},"axis":{"values":[0,100,200],"format":"~r","title":null}},"y":{"field":"y","type":"quantitative","scale":{"domain":[0,0.2]},"axis":{"values":[0,0.1,0.2],"format":"~r","title":null}},"color":{"field":"s","type":"nominal","scale":{"domain":["a","b","c"],"range":["#000000","#0000ff","#ff0000"]},"legend":null},"strokeDash":{"field":"s","type":"nominal","scale":{"domain":["a","b","c"],"range":[[1,0],[6,4],[6,3,1,3]]},"legend":null}}},
{"width":130,"height":125,"title":{"text":"(iv)","offset":-2,"anchor":"middle"},"data":{"name":"d"},"transform":[{"filter":"datum.r==5 && datum.p=='iv'"}],"mark":"line","encoding":{"x":{"field":"x","type":"quantitative","scale":{"domain":[0,200]},"axis":{"values":[0,100,200],"format":"~r","title":null}},"y":{"field":"y","type":"quantitative","scale":{"domain":[0,0.05]},"axis":{"values":[0,0.02,0.04,0.05],"format":"~r","title":null,"labelColor":{"condition":{"test":"datum.value > 0.045","value":"transparent"},"value":"#262626"}}},"color":{"field":"s","type":"nominal","scale":{"domain":["a","b","c"],"range":["#000000","#0000ff","#ff0000"]},"legend":null},"strokeDash":{"field":"s","type":"nominal","scale":{"domain":["a","b","c"],"range":[[1,0],[6,4],[6,3,1,3]]},"legend":null}}},
{"width":130,"height":125,"title":{"text":"(i)","offset":-2,"anchor":"middle"},"data":{"name":"d"},"transform":[{"filter":"datum.r==6 && datum.p=='i'"}],"mark":"line","encoding":{"x":{"field":"x","type":"quantitative","scale":{"domain":[0,200]},"axis":{"values":[0,100,200],"format":"~r","title":null}},"y":{"field":"y","type":"quantitative","scale":{"domain":[0,0.6]},"axis":{"values":[0,0.2,0.4,0.6],"format":"~r","title":"p̃ = 6","titleAngle":0,"titleAlign":"left","titleBaseline":"middle","titleX":-89,"titleY":60,"titleFont":"Liberation Serif","titleFontSize":19,"titleFontStyle":"italic","titleFontWeight":"normal","titleColor":"#000000"}},"color":{"field":"s","type":"nominal","scale":{"domain":["a","b","c"],"range":["#000000","#0000ff","#ff0000"]},"legend":null},"strokeDash":{"field":"s","type":"nominal","scale":{"domain":["a","b","c"],"range":[[1,0],[6,4],[6,3,1,3]]},"legend":null}}},
{"width":130,"height":125,"title":{"text":"(ii)","offset":-2,"anchor":"middle"},"data":{"name":"d"},"transform":[{"filter":"datum.r==6 && datum.p=='ii'"}],"mark":"line","encoding":{"x":{"field":"x","type":"quantitative","scale":{"domain":[0,200]},"axis":{"values":[0,100,200],"format":"~r","title":null}},"y":{"field":"y","type":"quantitative","scale":{"domain":[0,0.1]},"axis":{"values":[0,0.05,0.1],"format":"~r","title":null}},"color":{"field":"s","type":"nominal","scale":{"domain":["a","b","c"],"range":["#000000","#0000ff","#ff0000"]},"legend":null},"strokeDash":{"field":"s","type":"nominal","scale":{"domain":["a","b","c"],"range":[[1,0],[6,4],[6,3,1,3]]},"legend":null}}},
{"width":130,"height":125,"title":{"text":"(iii)","offset":-2,"anchor":"middle"},"data":{"name":"d"},"transform":[{"filter":"datum.r==6 && datum.p=='iii'"}],"mark":"line","encoding":{"x":{"field":"x","type":"quantitative","scale":{"domain":[0,200]},"axis":{"values":[0,100,200],"format":"~r","title":null}},"y":{"field":"y","type":"quantitative","scale":{"domain":[0,0.2]},"axis":{"values":[0,0.1,0.2],"format":"~r","title":null}},"color":{"field":"s","type":"nominal","scale":{"domain":["a","b","c"],"range":["#000000","#0000ff","#ff0000"]},"legend":null},"strokeDash":{"field":"s","type":"nominal","scale":{"domain":["a","b","c"],"range":[[1,0],[6,4],[6,3,1,3]]},"legend":null}}},
{"width":130,"height":125,"title":{"text":"(iv)","offset":-2,"anchor":"middle"},"data":{"name":"d"},"transform":[{"filter":"datum.r==6 && datum.p=='iv'"}],"mark":"line","encoding":{"x":{"field":"x","type":"quantitative","scale":{"domain":[0,200]},"axis":{"values":[0,100,200],"format":"~r","title":null}},"y":{"field":"y","type":"quantitative","scale":{"domain":[0,0.05]},"axis":{"values":[0,0.02,0.04,0.05],"format":"~r","title":null,"labelColor":{"condition":{"test":"datum.value > 0.045","value":"transparent"},"value":"#262626"}}},"color":{"field":"s","type":"nominal","scale":{"domain":["a","b","c"],"range":["#000000","#0000ff","#ff0000"]},"legend":null},"strokeDash":{"field":"s","type":"nominal","scale":{"domain":["a","b","c"],"range":[[1,0],[6,4],[6,3,1,3]]},"legend":null}}}
]
}
